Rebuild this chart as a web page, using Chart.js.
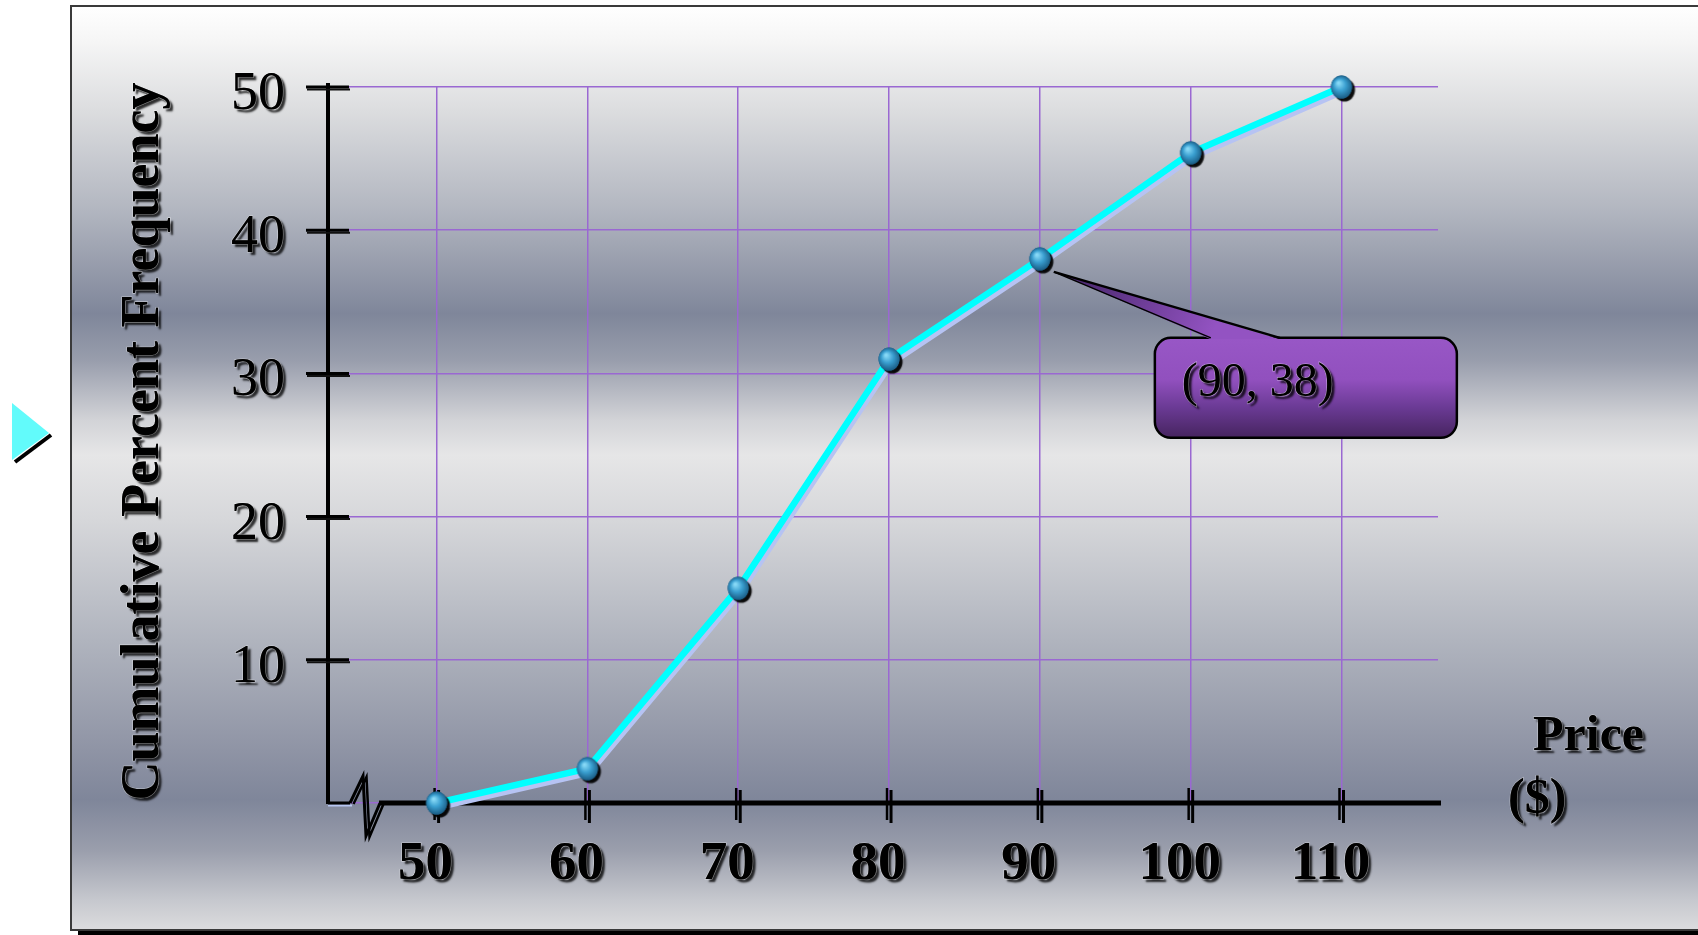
<!DOCTYPE html>
<html>
<head>
<meta charset="utf-8">
<title>Ogive – Cumulative Percent Frequency</title>
<script src="https://cdn.jsdelivr.net/npm/chart.js@4.4.1/dist/chart.umd.min.js"></script>
<style>
  html, body { margin: 0; padding: 0; background: #fff; overflow: hidden; }
  canvas { display: block; }
</style>
</head>
<body>
<canvas id="ogive" width="1698" height="935"></canvas>
<script>
// ---- data ----
const prices = [50, 60, 70, 80, 90, 100, 110];
const cumulativePercent = [0, 2.4, 15, 31, 38, 45.4, 50];
const yTickValues = [0, 10, 20, 30, 40, 50];
const yTickLabels = ['', '10', '20', '30', '40', '50'];
const xTickLabels = ['50', '60', '70', '80', '90', '100', '110'];
const calloutIndex = 4;
const yAxisTitle = 'Cumulative Percent Frequency';
const xAxisTitle = ['Price', '($)'];

// ---- layout / style ----
const W = 1698, H = 935;
const AREA = { left: 328, top: 87, right: 1438, bottom: 803 };
const SERIF = '"Liberation Serif", "Times New Roman", serif';
const GRID = '#9a68d2';

const points = prices.map((p, i) => ({ x: p, y: cumulativePercent[i] }));

// glossy blue marker with a dark drop shadow
function makeMarker() {
  const c = document.createElement('canvas');
  c.width = 36; c.height = 36;
  const g = c.getContext('2d');
  const cx = 18, cy = 18, r = 11;
  g.save();
  g.shadowColor = 'rgba(0,0,0,0.95)';
  g.shadowOffsetX = 3; g.shadowOffsetY = 3; g.shadowBlur = 1;
  g.fillStyle = '#1c5f86';
  g.beginPath(); g.ellipse(cx, cy, r - 0.5, r + 0.5, 0, 0, Math.PI * 2); g.fill();
  g.restore();
  const rg = g.createRadialGradient(cx - 3, cy - 4, 1, cx, cy, r + 1);
  rg.addColorStop(0, '#86d8f6');
  rg.addColorStop(0.45, '#3a9fd0');
  rg.addColorStop(1, '#17577f');
  g.fillStyle = rg;
  g.beginPath(); g.ellipse(cx, cy, r - 0.5, r + 0.5, 0, 0, Math.PI * 2); g.fill();
  return c;
}

function shadowText(ctx, text, x, y, font, align) {
  ctx.save();
  ctx.font = font;
  ctx.textAlign = align;
  ctx.textBaseline = 'alphabetic';
  ctx.fillStyle = '#000';
  ctx.shadowColor = 'rgba(0,0,0,0.8)';
  ctx.shadowOffsetX = 3; ctx.shadowOffsetY = 3; ctx.shadowBlur = 2;
  ctx.fillText(text, x, y);
  ctx.shadowColor = 'transparent';
  ctx.lineWidth = 1.2;
  ctx.strokeStyle = 'rgba(255,255,255,0.45)';
  ctx.strokeText(text, x, y);
  ctx.fillText(text, x, y);
  ctx.restore();
}

function line(ctx, pts, width, color) {
  ctx.save();
  ctx.beginPath();
  ctx.moveTo(pts[0][0], pts[0][1]);
  for (let i = 1; i < pts.length; i++) ctx.lineTo(pts[i][0], pts[i][1]);
  ctx.lineWidth = width;
  ctx.strokeStyle = color;
  ctx.lineJoin = 'miter';
  ctx.stroke();
  ctx.restore();
}

// slide background, frame and the small bullet arrow
const framePlugin = {
  id: 'frame',
  beforeDraw(chart) {
    const ctx = chart.ctx;
    ctx.save();
    ctx.fillStyle = '#fff';
    ctx.fillRect(0, 0, W, H);
    const top = 6, bottom = 930;
    const gr = ctx.createLinearGradient(0, top, 0, bottom);
    const stops = [
      [6, '#ffffff'], [40, '#f6f6f6'], [110, '#dcdddf'], [210, '#b2b6c0'],
      [314, '#7f869a'], [360, '#989dac'], [420, '#d2d3d7'], [455, '#e6e6e7'],
      [520, '#d6d7da'], [640, '#b0b4be'], [750, '#8f94a5'], [800, '#7f869a'],
      [850, '#9a9eac'], [900, '#c6c8ce'], [930, '#dcdcde']
    ];
    stops.forEach(([y, c]) => gr.addColorStop((y - top) / (bottom - top), c));
    ctx.fillStyle = gr;
    ctx.fillRect(71, top, W - 71, bottom - top);
    // frame border
    ctx.strokeStyle = '#3a3a3a';
    ctx.lineWidth = 2;
    ctx.beginPath();
    ctx.moveTo(W + 2, top); ctx.lineTo(71, top); ctx.lineTo(71, bottom); ctx.lineTo(W + 2, bottom);
    ctx.stroke();
    // drop shadow along the bottom
    ctx.fillStyle = '#000';
    ctx.fillRect(78, bottom + 1, W - 78, 4);
    // bullet arrow
    ctx.beginPath();
    ctx.moveTo(15, 462); ctx.lineTo(51, 435);
    ctx.lineWidth = 4; ctx.strokeStyle = '#000'; ctx.stroke();
    ctx.beginPath();
    ctx.moveTo(12, 403); ctx.lineTo(49, 433); ctx.lineTo(12, 460); ctx.closePath();
    ctx.fillStyle = '#62fbfb';
    ctx.fill();
    ctx.restore();
  }
};

// axis lines with shadowed tick marks and the axis break
const axesPlugin = {
  id: 'axes',
  beforeDatasetsDraw(chart) {
    const ctx = chart.ctx;
    const xs = chart.scales.x, ys = chart.scales.y;
    const x0 = chart.chartArea.left;
    const y0 = ys.getPixelForValue(0);
    const yTop = ys.getPixelForValue(50);
    const xEnd = chart.chartArea.right + 3;

    // vertical axis
    line(ctx, [[x0, yTop - 4], [x0, y0 + 1]], 4, '#000');
    // horizontal ticks on the vertical axis
    yTickValues.forEach(v => {
      if (v === 0) return;
      const py = ys.getPixelForValue(v);
      line(ctx, [[x0 - 21, py + 2.5], [x0 + 22, py + 2.5]], 2, '#111');
      line(ctx, [[x0 - 22, py], [x0 + 21, py]], 3, '#000');
    });

    // short stub before the break
    line(ctx, [[x0, y0 + 2.5], [x0 + 24, y0 + 2.5]], 2, '#b7c6f2');
    line(ctx, [[x0, y0], [x0 + 22, y0]], 3, '#000');
    // break zigzag (shadow copy + main stroke)
    const zig = [[x0 + 22, y0], [x0 + 35, y0 - 27], [x0 + 38, y0 + 33], [x0 + 52, y0]];
    line(ctx, zig.map(([a, b]) => [a + 3.5, b + 1]), 2.5, '#000');
    line(ctx, zig, 3, '#000');
    // horizontal axis
    line(ctx, [[x0 + 51, y0], [xEnd, y0]], 5, '#000');
    // vertical ticks on the horizontal axis
    prices.forEach(v => {
      const px = xs.getPixelForValue(v);
      line(ctx, [[px - 2, y0 - 15], [px - 2, y0 + 17]], 2.5, '#000');
      line(ctx, [[px + 2, y0 - 13], [px + 2, y0 + 20]], 3, '#000');
    });
  },
  afterDraw(chart) {
    const ctx = chart.ctx;
    const xs = chart.scales.x, ys = chart.scales.y;
    // y tick labels
    yTickValues.forEach((v, i) => {
      if (!yTickLabels[i]) return;
      shadowText(ctx, yTickLabels[i], 285, ys.getPixelForValue(v) + 22, '54px ' + SERIF, 'right');
    });
    // x tick labels
    prices.forEach((v, i) => {
      shadowText(ctx, xTickLabels[i], xs.getPixelForValue(v) - 11, 879, 'bold 55px ' + SERIF, 'center');
    });
    // axis titles
    ctx.save();
    ctx.translate(158, 441.5);
    ctx.rotate(-Math.PI / 2);
    shadowText(ctx, yAxisTitle, 0, 0, 'bold 54px ' + SERIF, 'center');
    ctx.restore();
    shadowText(ctx, xAxisTitle[0], 1533, 750, 'bold 50px ' + SERIF, 'left');
    shadowText(ctx, xAxisTitle[1], 1508, 813, 'bold 50px ' + SERIF, 'left');
  }
};

// lavender drop shadow beneath the cyan polygon line
const lineShadowPlugin = {
  id: 'lineShadow',
  beforeDatasetDraw(chart, args) {
    if (args.meta.dataset && chart.data.datasets[args.index].label === 'ogive') {
      const ctx = chart.ctx;
      ctx.save();
      ctx.shadowColor = '#b6c3f3';
      ctx.shadowOffsetX = 2;
      ctx.shadowOffsetY = 4;
      ctx.shadowBlur = 0;
    }
  },
  afterDatasetDraw(chart, args) {
    if (args.meta.dataset && chart.data.datasets[args.index].label === 'ogive') {
      chart.ctx.restore();
    }
  }
};

// speech-bubble callout pointing at one point
const calloutPlugin = {
  id: 'callout',
  afterDatasetsDraw(chart) {
    const ctx = chart.ctx;
    const px = chart.scales.x.getPixelForValue(prices[calloutIndex]);
    const py = chart.scales.y.getPixelForValue(cumulativePercent[calloutIndex]);
    const bx = px + 115, by = py + 79, bw = 302, bh = 100, r = 16;
    const tip = [px + 14, py + 13];
    const baseL = bx + 56, baseR = bx + 125;

    ctx.save();
    const bg = ctx.createLinearGradient(0, by, 0, by + bh);
    bg.addColorStop(0, '#9857c6');
    bg.addColorStop(0.42, '#9150be');
    bg.addColorStop(0.7, '#6a3a94');
    bg.addColorStop(1, '#46245f');
    ctx.beginPath();
    ctx.roundRect(bx, by, bw, bh, r);
    ctx.fillStyle = bg;
    ctx.fill();
    ctx.lineWidth = 2.5;
    ctx.strokeStyle = '#000';
    ctx.stroke();

    // pointer
    const pg = ctx.createLinearGradient(tip[0], tip[1], baseL, by);
    pg.addColorStop(0, '#3f2262');
    pg.addColorStop(1, '#9353c2');
    ctx.beginPath();
    ctx.moveTo(tip[0], tip[1]);
    ctx.lineTo(baseR, by + 1.5);
    ctx.lineTo(baseL, by + 1.5);
    ctx.closePath();
    ctx.fillStyle = pg;
    ctx.fill();
    ctx.beginPath();
    ctx.moveTo(tip[0], tip[1]); ctx.lineTo(baseR, by);
    ctx.lineWidth = 2.5; ctx.stroke();
    ctx.beginPath();
    ctx.moveTo(tip[0], tip[1]); ctx.lineTo(baseL, by);
    ctx.lineWidth = 1.5; ctx.stroke();
    ctx.restore();

    const label = '(' + prices[calloutIndex] + ', ' + cumulativePercent[calloutIndex] + ')';
    shadowText(ctx, label, bx + 27, by + 58, '48px ' + SERIF, 'left');
  }
};

const marker = makeMarker();

new Chart(document.getElementById('ogive'), {
  type: 'line',
  data: {
    datasets: [
      {
        label: 'markers',
        data: points,
        showLine: false,
        pointStyle: marker,
        pointRadius: 11,
        clip: false,
        order: 0
      },
      {
        label: 'ogive',
        data: points,
        borderColor: '#00ffff',
        borderWidth: 6.5,
        pointRadius: 0,
        tension: 0,
        fill: false,
        clip: false,
        order: 1
      }
    ]
  },
  options: {
    responsive: false,
    animation: false,
    devicePixelRatio: 1,
    events: [],
    layout: { padding: { left: 0, top: AREA.top, right: W - AREA.right, bottom: 0 } },
    plugins: {
      legend: { display: false },
      tooltip: { enabled: false },
      title: { display: false }
    },
    scales: {
      x: {
        type: 'linear',
        min: 42.8,
        max: 116.4,
        afterBuildTicks: s => { s.ticks = prices.map(v => ({ value: v })); },
        afterFit: s => { s.height = H - AREA.bottom; },
        grid: { color: GRID, lineWidth: 1.5, drawTicks: false },
        border: { display: false },
        ticks: { display: false }
      },
      y: {
        type: 'linear',
        min: 0,
        max: 50,
        afterBuildTicks: s => { s.ticks = yTickValues.map(v => ({ value: v })); },
        afterFit: s => { s.width = AREA.left; },
        grid: { color: GRID, lineWidth: 1.5, drawTicks: false },
        border: { display: false },
        ticks: { display: false }
      }
    }
  },
  plugins: [framePlugin, axesPlugin, lineShadowPlugin, calloutPlugin]
});
</script>
</body>
</html>
